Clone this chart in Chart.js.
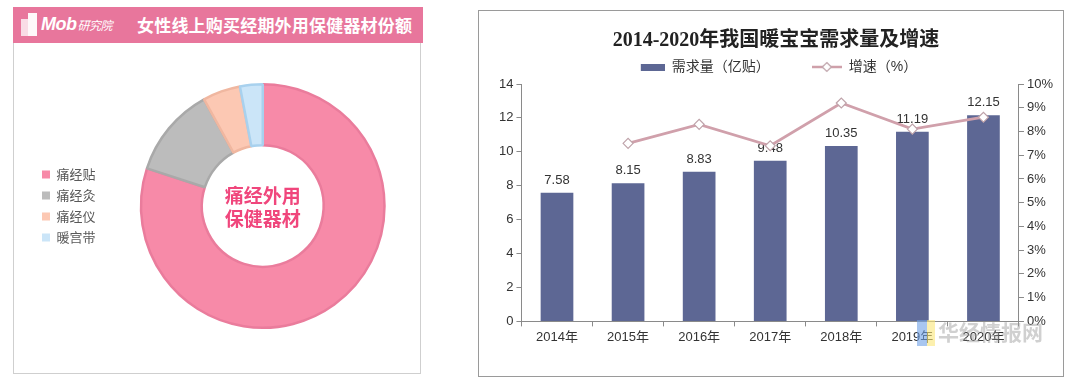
<!DOCTYPE html>
<html>
<head>
<meta charset="utf-8">
<script src="https://cdn.jsdelivr.net/npm/chart.js@4.4.0/dist/chart.umd.min.js"></script>
<style>
  body { margin: 0; width: 1081px; height: 385px; background: #fff; position: relative; overflow: hidden;
         font-family: "Noto Sans CJK SC", sans-serif; }
  #leftHead { position: absolute; left: 13px; top: 7px; width: 410px; height: 36px; background: #E8769C; color: #fff; }
  #leftHead .b1 { position: absolute; left: 8px; top: 12px; width: 7px; height: 17px; background: rgba(255,255,255,0.75); }
  #leftHead .b2 { position: absolute; left: 15px; top: 6px; width: 9px; height: 23px; background: rgba(255,255,255,0.95); }
  #leftHead .mob { position: absolute; left: 28px; top: 7px; font: italic bold 18px "Liberation Sans", sans-serif; letter-spacing: -0.5px; }
  #leftHead .mob small { font: italic 12px "Noto Sans CJK SC", sans-serif; margin-left: 1px; }
  #leftHead .ttl { position: absolute; left: 124px; top: 5px; font-size: 17px; font-weight: bold; letter-spacing: 0.2px; }
  #leftBox { position: absolute; left: 13px; top: 43px; width: 406px; height: 330px; border: 1px solid #cfcfcf; border-top: none; }
  #shareChart { position: absolute; left: 14px; top: 43px; }
  #rightBox { position: absolute; left: 478px; top: 10px; width: 584px; height: 365px; border: 1px solid #9a9a9a; }
  #demandChart { position: absolute; left: 479px; top: 11px; }
  #mark { position: absolute; left: 938px; top: 316px; font-size: 21px; font-weight: bold; color: rgba(150,150,150,0.45); }
  #markA { position: absolute; left: 917px; top: 320px; width: 10px; height: 26px; background: rgba(110,160,230,0.6); }
  #markB { position: absolute; left: 927px; top: 320px; width: 8px; height: 26px; background: rgba(250,230,120,0.6); }
</style>
</head>
<body>
<div id="leftHead">
  <span class="b1"></span><span class="b2"></span>
  <span class="mob">Mob<small>研究院</small></span>
  <span class="ttl">女性线上购买经期外用保健器材份额</span>
</div>
<div id="leftBox"></div>
<canvas id="shareChart" width="406" height="330"></canvas>
<div id="rightBox"></div>
<canvas id="demandChart" width="583" height="364"></canvas>
<div id="markA"></div><div id="markB"></div>
<div id="mark">华经情报网</div>
<script>
// left: share of menstrual care products bought online
const shareLabels = ['痛经贴', '痛经灸', '痛经仪', '暖宫带'];
const shareValues = [80, 12, 5, 3];
const shareColors = ['#F78AA8', '#BCBCBC', '#FCC8B3', '#CBE5F8'];
const shareBorders = ['#EA7C9C', '#A9A9A9', '#F0B7A0', '#A8D1EE'];

// right: heat patch demand 2014-2020
const years = ['2014年', '2015年', '2016年', '2017年', '2018年', '2019年', '2020年'];
const demand = [7.58, 8.15, 8.83, 9.48, 10.35, 11.19, 12.15];
const growth = [null, 7.5, 8.3, 7.4, 9.2, 8.1, 8.6];

const sansFont = '"Liberation Sans", "Noto Sans CJK SC", sans-serif';

const centerText = {
    id: 'centerText',
    afterDraw(chart) {
        const arc = chart.getDatasetMeta(0).data[0];
        const ctx = chart.ctx;
        ctx.save();
        ctx.font = 'bold 19px "Noto Sans CJK SC"';
        ctx.fillStyle = '#F0467C';
        ctx.textAlign = 'center';
        ctx.textBaseline = 'middle';
        ctx.fillText('痛经外用', arc.x, arc.y - 10);
        ctx.fillText('保健器材', arc.x, arc.y + 13);
        ctx.restore();
    }
};

new Chart(document.getElementById('shareChart'), {
    type: 'doughnut',
    data: {
        labels: shareLabels,
        datasets: [{
            data: shareValues,
            backgroundColor: shareColors,
            borderColor: shareBorders,
            borderWidth: 2.5,
            hoverOffset: 0
        }]
    },
    options: {
        responsive: false,
        animation: false,
        cutout: '50%',
        layout: { padding: { left: 20, top: 40, bottom: 44, right: 0 } },
        plugins: {
            tooltip: { enabled: false },
            legend: {
                position: 'left',
                labels: {
                    boxWidth: 8,
                    boxHeight: 8,
                    padding: 8,
                    color: '#595959',
                    font: { size: 13, family: '"Noto Sans CJK SC"' },
                    generateLabels: function(chart) {
                        return shareLabels.map((t, i) => ({
                            text: t,
                            fillStyle: shareColors[i],
                            strokeStyle: shareColors[i],
                            lineWidth: 0,
                            fontColor: '#595959',
                            index: i
                        }));
                    }
                }
            }
        }
    },
    plugins: [centerText]
});

function legendIcon(draw) {
    const c = document.createElement('canvas');
    c.width = 30;
    c.height = 12;
    draw(c.getContext('2d'));
    return c;
}

const barIcon = legendIcon(ctx => {
    ctx.fillStyle = '#5D6794';
    ctx.fillRect(6, 3, 24, 7);
});
const lineIcon = legendIcon(ctx => {
    ctx.strokeStyle = '#CFA0AA';
    ctx.lineWidth = 2.5;
    ctx.beginPath();
    ctx.moveTo(0, 6);
    ctx.lineTo(30, 6);
    ctx.stroke();
    ctx.fillStyle = '#fff';
    ctx.strokeStyle = '#BFA3AA';
    ctx.lineWidth = 1.2;
    ctx.beginPath();
    ctx.moveTo(15, 1.5);
    ctx.lineTo(19.5, 6);
    ctx.lineTo(15, 10.5);
    ctx.lineTo(10.5, 6);
    ctx.closePath();
    ctx.fill();
    ctx.stroke();
});

const barLabels = {
    id: 'barLabels',
    afterDatasetDraw(chart, args) {
        if (args.index !== 0) return;
        const ctx = chart.ctx;
        ctx.save();
        ctx.font = '13px "Liberation Sans"';
        ctx.fillStyle = '#333';
        ctx.textAlign = 'center';
        ctx.textBaseline = 'bottom';
        args.meta.data.forEach((bar, i) => {
            ctx.fillText(demand[i].toFixed(2), bar.x, bar.y - 6);
        });
        ctx.restore();
    }
};

const axisGrid = { display: true, drawOnChartArea: false, color: '#8a8a8a', tickLength: 5 };
const axisTicks = { color: '#333', padding: 3, font: { size: 13, family: sansFont } };

new Chart(document.getElementById('demandChart'), {
    data: {
        labels: years,
        datasets: [
            {
                type: 'bar',
                label: '需求量（亿贴）',
                data: demand,
                backgroundColor: '#5D6794',
                yAxisID: 'y',
                order: 2,
                barPercentage: 1,
                categoryPercentage: 0.46
            },
            {
                type: 'line',
                label: '增速（%）',
                data: growth,
                yAxisID: 'y1',
                borderColor: '#D0A0AB',
                borderWidth: 2.8,
                pointStyle: 'rectRot',
                pointRadius: 5,
                pointBackgroundColor: '#fff',
                pointBorderColor: '#BFA3AA',
                pointBorderWidth: 1.2,
                tension: 0,
                order: 1
            }
        ]
    },
    options: {
        responsive: false,
        animation: false,
        layout: { padding: { left: 17, right: 6, bottom: 27 } },
        plugins: {
            tooltip: { enabled: false },
            title: {
                display: true,
                text: '2014-2020年我国暖宝宝需求量及增速',
                color: '#222',
                font: { size: 20, weight: 'bold', family: '"Liberation Serif", "Noto Sans CJK SC", serif' },
                padding: { top: 18, bottom: 0 }
            },
            legend: {
                position: 'top',
                labels: {
                    usePointStyle: true,
                    pointStyleWidth: 30,
                    padding: 7,
                    color: '#333',
                    font: { size: 14, family: sansFont },
                    generateLabels: function(chart) {
                        return [
                            { text: '需求量（亿贴）\u3000\u3000\u3000', pointStyle: barIcon, fillStyle: '#5D6794', strokeStyle: '#5D6794', lineWidth: 0, fontColor: '#333', datasetIndex: 0 },
                            { text: '增速（%）', pointStyle: lineIcon, fillStyle: '#fff', strokeStyle: '#CFA0AA', lineWidth: 0, fontColor: '#333', datasetIndex: 1 }
                        ];
                    }
                }
            }
        },
        scales: {
            x: {
                offset: true,
                grid: Object.assign({ offset: true }, axisGrid),
                border: { color: '#8a8a8a' },
                ticks: axisTicks
            },
            y: {
                min: 0,
                max: 14,
                ticks: Object.assign({ stepSize: 2 }, axisTicks),
                grid: axisGrid,
                border: { color: '#8a8a8a' }
            },
            y1: {
                position: 'right',
                min: 0,
                max: 10,
                ticks: Object.assign({ stepSize: 1, callback: v => v + '%' }, axisTicks),
                grid: axisGrid,
                border: { color: '#8a8a8a' }
            }
        }
    },
    plugins: [barLabels]
});
</script>
</body>
</html>
